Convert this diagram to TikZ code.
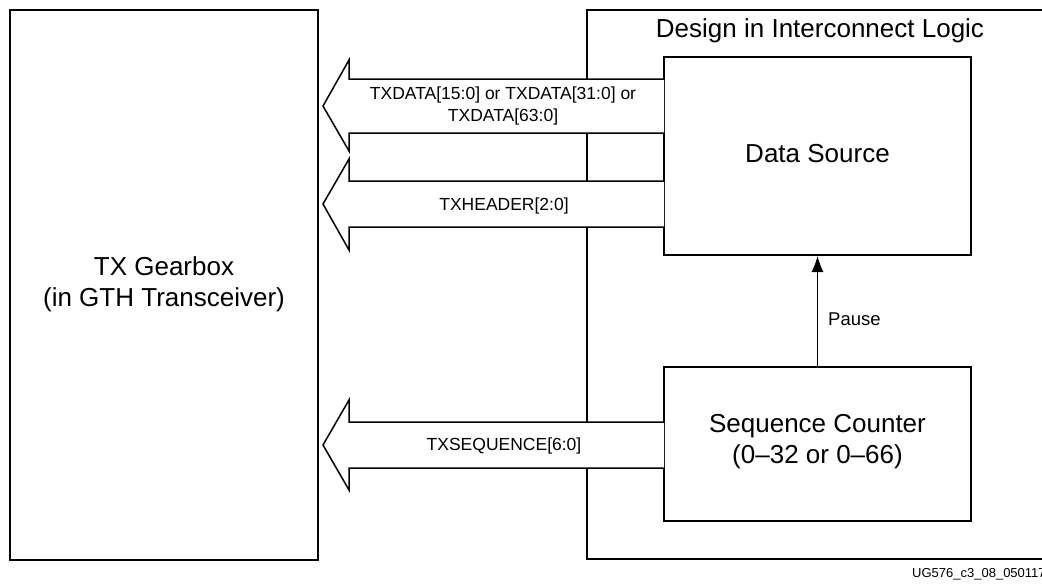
\documentclass[tikz,border=0pt]{standalone}
\usepackage{fontspec}
\setmainfont{Liberation Sans}
\usetikzlibrary{arrows.meta}
\tikzset{
  blk/.style={draw, line width=2.2pt, fill=white},
  bigtxt/.style={font=\fontsize{26}{31}\selectfont, align=center, inner sep=0pt},
  bustxt/.style={font=\fontsize{17.5}{22}\selectfont, align=center, inner sep=0pt},
}
\begin{document}
\begin{tikzpicture}[x=1pt,y=-1pt]
\useasboundingbox (0,0) rectangle (1042,584);
% boxes
\path[blk] (10,10) rectangle (318,560);
\node[bigtxt] (gear) at (164,284) {TX Gearbox\\(in GTH Transceiver)};
\path[blk] (587,10) rectangle (1060,559);
\node[bigtxt, anchor=base] (design) at (820,37) {Design in Interconnect Logic};
\path[blk] (664,57) rectangle (971,255);
\node[bigtxt] (src) at (817.5,154) {Data Source};
\path[blk] (664,367) rectangle (971,521);
\node[bigtxt] (seq) at (817.5,442) {Sequence Counter\\(0--32 or 0--66)};
\coordinate (srcb) at (817.5,256);
\coordinate (seqt) at (817.5,366);
% wide bus arrows
\foreach \yt/\yb/\ht/\hb/\tp in {79/133/60/151/106, 181/227/159/250/204, 422/468/400/490/445}{
  \fill[white] (664,\yt) -- (349,\yt) -- (349,\ht) -- (323,\tp) -- (349,\hb) -- (349,\yb) -- (664,\yb) -- cycle;
  \draw[line width=1.5pt] (664,\yt) -- (349,\yt) -- (349,\ht) -- (323,\tp) -- (349,\hb) -- (349,\yb) -- (664,\yb);
}
\node[bustxt] (l1) at (503,106) {TXDATA[15:0] or TXDATA[31:0] or\\TXDATA[63:0]};
\node[bustxt] (l2) at (504,206) {TXHEADER[2:0]};
\node[bustxt] (l3) at (504,446) {TXSEQUENCE[6:0]};
% pause arrow
\draw[line width=1pt, -{Latex[length=16pt,width=12pt]}] (seqt) -- (srcb);
\node[font=\fontsize{18.5}{22}\selectfont, anchor=base west, inner sep=0pt] (pause) at (828,325) {Pause};
% caption
\node[font=\fontsize{13}{15}\selectfont, anchor=base west, inner sep=0pt] (cap) at (912,577) {UG576\_c3\_08\_050117};
\end{tikzpicture}
\end{document}
